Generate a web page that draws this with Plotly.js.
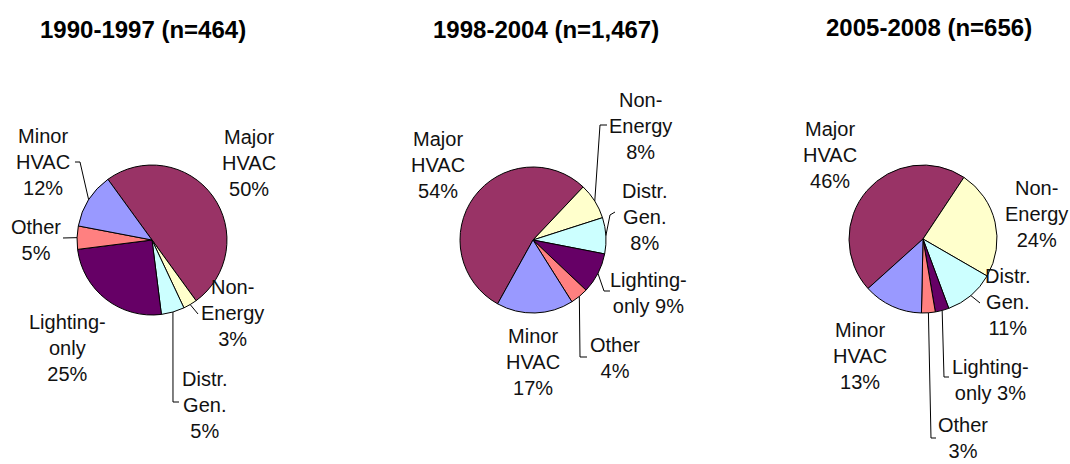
<!DOCTYPE html>
<html>
<head>
<meta charset="utf-8">
<script src="https://cdn.plot.ly/plotly-3.0.1.min.js"></script>
<style>html,body{margin:0;padding:0;background:#fff;}#chart{width:1070px;height:464px;}</style>
</head>
<body>
<div id="chart"></div>
<script>
// ---- data ----
const categories = ['Major HVAC', 'Non-Energy', 'Distr. Gen.', 'Lighting-only', 'Other', 'Minor HVAC'];
const labelLines = ['Major<br>HVAC', 'Non-<br>Energy', 'Distr.<br>Gen.', 'Lighting-<br>only', 'Other', 'Minor<br>HVAC'];
const shares1990 = [50, 3, 5, 25, 5, 12];
const shares1998 = [54, 8, 8, 9, 4, 17];
const shares2005 = [46, 24, 11, 3, 3, 13];
const periodTitles = ['1990-1997 (n=464)', '1998-2004 (n=1,467)', '2005-2008 (n=656)'];

// ---- style / layout ----
const W = 1070, H = 464;
const colors = ['#993366', '#FFFFCC', '#CCFFFF', '#660066', '#FF8080', '#9999FF'];
const FONT = '"Liberation Sans", Arial, Helvetica, sans-serif';

const pies = [
  { values: shares1990, title: periodTitles[0], cx: 152, cy: 240, r: 75, rot: -36, titleX: 143, titleY: 29,
    labels: [
      { x: 249, y: 163 },
      { x: 232, y: 313, path: [[198, 314]] },
      { x: 205, y: 405, path: [[173, 402], [179, 402]] },
      { x: 67, y: 348 },
      { x: 36, y: 240, path: [[63, 238]] },
      { x: 43, y: 162, path: [[80, 162], [75, 162]] }
    ], sep: ['<br>', '<br>', '<br>', '<br>', '<br>', '<br>'] },
  { values: shares1998, title: periodTitles[1], cx: 533, cy: 240, r: 73, rot: 209, titleX: 546, titleY: 29,
    labels: [
      { x: 438, y: 165 },
      { x: 640, y: 126, path: [[600, 125], [607, 125]] },
      { x: 645, y: 217, path: [[610, 215], [615, 212]] },
      { x: 649, y: 293, path: [[604, 291], [610, 291]] },
      { x: 615, y: 358, path: [[580, 357], [587, 357]] },
      { x: 533, y: 362 }
    ], sep: ['<br>', '<br>', '<br>', ' ', '<br>', '<br>'] },
  { values: shares2005, title: periodTitles[2], cx: 923, cy: 239, r: 74, rot: 228, titleX: 929, titleY: 27,
    labels: [
      { x: 830, y: 155 },
      { x: 1036, y: 214 },
      { x: 1008, y: 302, path: [[980, 303]] },
      { x: 990, y: 380, path: [[944, 377], [949, 377]] },
      { x: 963, y: 438, path: [[931, 438], [936, 438]] },
      { x: 860, y: 356 }
    ], sep: ['<br>', '<br>', '<br>', ' ', '<br>', '<br>'] }
];

const px = x => x / W;
const py = y => 1 - y / H;

const traces = [];
const annotations = [];
const shapes = [];

pies.forEach(p => {
  traces.push({
    type: 'pie',
    labels: categories,
    values: p.values,
    sort: false,
    direction: 'clockwise',
    rotation: p.rot,
    textinfo: 'none',
    hoverinfo: 'label+percent',
    marker: { colors: colors, line: { color: '#000', width: 1 } },
    domain: { x: [px(p.cx - p.r), px(p.cx + p.r)], y: [py(p.cy + p.r), py(p.cy - p.r)] },
    showlegend: false
  });

  annotations.push({
    text: '<b>' + p.title + '</b>',
    x: px(p.titleX), y: py(p.titleY), xref: 'paper', yref: 'paper',
    xanchor: 'center', yanchor: 'middle', showarrow: false,
    font: { family: FONT, size: 24, color: '#000' }
  });

  const total = p.values.reduce((a, b) => a + b, 0);
  let cum = 0;
  p.values.forEach((v, i) => {
    const mid = (p.rot + (cum + v / 2) / total * 360) * Math.PI / 180;
    cum += v;
    const lab = p.labels[i];
    annotations.push({
      text: labelLines[i] + p.sep[i] + v + '%',
      x: px(lab.x), y: py(lab.y), xref: 'paper', yref: 'paper',
      xanchor: 'center', yanchor: 'middle', align: 'center', showarrow: false,
      font: { family: FONT, size: 20, color: '#111' }
    });
    if (lab.path) {
      const ex = p.cx + p.r * Math.sin(mid);
      const ey = p.cy - p.r * Math.cos(mid);
      const pts = [[ex, ey]].concat(lab.path);
      let d = '';
      pts.forEach((pt, k) => { d += (k ? ' L ' : 'M ') + px(pt[0]).toFixed(5) + ',' + py(pt[1]).toFixed(5); });
      shapes.push({ type: 'path', path: d, xref: 'paper', yref: 'paper',
        line: { color: '#000', width: 1 } });
    }
  });
});

const layout = {
  width: W, height: H,
  margin: { l: 0, r: 0, t: 0, b: 0 },
  paper_bgcolor: '#fff',
  annotations: annotations,
  shapes: shapes,
  showlegend: false
};

Plotly.newPlot('chart', traces, layout, { displayModeBar: false, staticPlot: true });
</script>
</body>
</html>
